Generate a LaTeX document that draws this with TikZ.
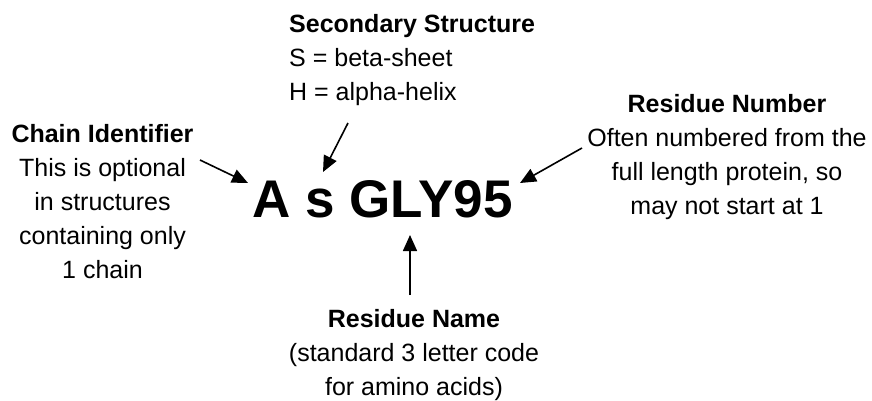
\documentclass[tikz,border=0pt]{standalone}
\usepackage{fontspec}
\setmainfont{Liberation Sans}
\usetikzlibrary{arrows.meta}
\begin{document}
\begin{tikzpicture}[x=1pt,y=-1pt,
  note/.style={inner sep=0pt, font=\fontsize{25}{34}\selectfont},
  pointer/.style={line width=1.6pt, -{Triangle[length=16pt,width=14pt]}}]
\useasboundingbox[fill=white] (0,0) rectangle (872,400);

% the residue code itself
\node[inner sep=0pt, anchor=base, font=\bfseries\fontsize{53}{60}\selectfont] (code) at (382.5,217) {A s GLY95};

% explanatory labels (positioned by the baseline of their last line)
\node[note, align=left, anchor=base west] (sec) at (289,100)
  {\textbf{Secondary Structure}\\S = beta-sheet\\H = alpha-helix};
\node[note, align=center, anchor=base] (chain) at (102.5,278)
  {\textbf{Chain Identifier}\\This is optional\\in structures\\containing only\\1 chain};
\node[note, align=center, anchor=base] (num) at (727,214)
  {\textbf{Residue Number}\\Often numbered from the\\full length protein, so\\may not start at 1};
\node[note, align=center, anchor=base] (name) at (414,395)
  {\textbf{Residue Name}\\(standard 3 letter code\\for amino acids)};

% arrow end points
\coordinate (chainTail) at (200,160);
\coordinate (chainTip) at (248,183);
\coordinate (secTail) at (348,123);
\coordinate (secTip) at (323,172);
\coordinate (numTail) at (582,148);
\coordinate (numTip) at (520,183);
\coordinate (nameTail) at (410,295);
\coordinate (nameTip) at (410,235);

\draw[pointer] (chainTail) -- (chainTip);
\draw[pointer] (secTail) -- (secTip);
\draw[pointer] (numTail) -- (numTip);
\draw[pointer] (nameTail) -- (nameTip);
\end{tikzpicture}
\end{document}
